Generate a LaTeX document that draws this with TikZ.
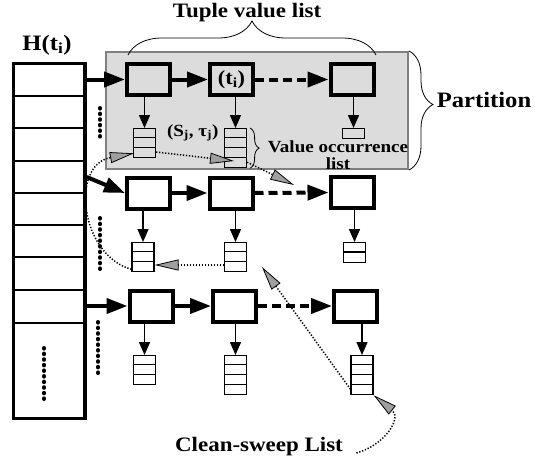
\documentclass[tikz,border=0pt]{standalone}
\usepackage{fontspec}
\setmainfont[FakeStretch=1.12]{Liberation Serif}
\usetikzlibrary{arrows.meta,decorations.pathreplacing,calc}
\definecolor{partgray}{HTML}{DCDCDC}
\newcommand\vlist[5]{%
  \node[lst,minimum height={#4*#5pt},anchor=north] (#1) at (#2,#3) {};
  \ifnum#4>1
    \pgfmathtruncatemacro\nmcells{#4-1}%
    \foreach \k in {1,...,\nmcells}{%
      \pgfmathsetmacro\yy{#3+\k*#5}%
      \draw[line width=1.2pt] (#1.west |- 0,\yy) -- (#1.east |- 0,\yy);
    }%
  \fi
}
\begin{document}
\begin{tikzpicture}[x=1pt,y=-1pt,
  vbox/.style={draw,line width=4pt,minimum width=43pt,minimum height=31pt,inner sep=0pt,font=\fontsize{20}{22}\selectfont\bfseries},
  lst/.style={draw,line width=1.2pt,minimum width=22pt,inner sep=0pt},
  big/.style={line width=4pt,-{Triangle[length=21pt,width=15pt]}},
  bigdash/.style={big,dash pattern=on 9pt off 5pt},
  down/.style={line width=1.5pt,-{Triangle[length=13pt,width=11pt]}},
  cs/.style={line width=1.5pt,dash pattern=on 1.3pt off 1.7pt,-{Triangle[length=24pt,width=11pt,fill=gray!75,line width=0.8pt]}},
  dots/.style={line width=4pt,dash pattern=on 0.6pt off 5pt,line cap=round},
  lbl/.style={font=\fontsize{20.5}{24}\selectfont\bfseries},
  slbl/.style={font=\fontsize{17}{16.5}\selectfont\bfseries},
  brace/.style={decorate,line width=0.8pt}
]
\useasboundingbox (0,0) rectangle (535,461);

% partition background
\node[fill=partgray,draw=gray,line width=2pt,minimum width=302pt,minimum height=117pt,inner sep=0pt] (part) at (257,110.5) {};

% hash table
\node[draw,line width=3.3pt,minimum width=71.7pt,minimum height=355pt,inner sep=0pt] (hash) at (49.2,241) {};
\foreach \y in {96,128,161,193,225,257,290,323}
  \draw[line width=1.2pt] (hash.west |- 0,\y) -- (hash.east |- 0,\y);
\draw[dots] (44,348) -- (44,402);

% boxes
\node[vbox] (b11) at (148.5,79.5) {};
\node[vbox] (b12) at (231.5,79.5) {(t\textsubscript{i})};
\node[vbox] (b13) at (352,79.5) {};
\node[vbox,fill=white] (b21) at (148.5,193) {};
\node[vbox,fill=white] (b22) at (231,193) {};
\node[vbox,fill=white] (b23) at (352,192.5) {};
\node[vbox,fill=white] (b31) at (151,306) {};
\node[vbox,fill=white] (b32) at (234.5,306) {};
\node[vbox,fill=white] (b33) at (355.5,306) {};

% lists
\vlist{l11}{144.5}{128}{3}{9.7}
\vlist{l12}{235.5}{128}{4}{9.75}
\vlist{l13}{353.5}{128}{1}{10}
\vlist{l21}{143}{242}{3}{9.7}
\vlist{l22}{235.5}{242}{3}{9.7}
\vlist{l23}{354.5}{242}{2}{10}
\vlist{l31}{144.5}{355}{3}{9.7}
\vlist{l32}{235.5}{355}{4}{9.75}
\vlist{l33}{362}{355}{4}{9.75}

% hash -> rows
\draw[big] (hash.east |- b11) -- (b11.west);
\draw[big] (hash.east |- 0,177) -- (b21.west);
\draw[big] (hash.east |- b31) -- (b31.west);

% row connections
\draw[big] (b11.east) -- (b12.west);
\draw[bigdash] (b12.east) -- (b13.west);
\draw[big] (b21.east) -- (b22.west);
\draw[bigdash] (b22.east) -- (b23.west);
\draw[big] (b31.east) -- (b32.west);
\draw[bigdash] (b32.east) -- (b33.west);

% down arrows
\foreach \b/\l in {b11/l11,b12/l12,b13/l13,b21/l21,b22/l22,b23/l23,b31/l31,b32/l32,b33/l33}
  \draw[down] (\b.south -| \l.north) -- (\l.north);

% thick dotted columns
\draw[dots] (100,108) -- (100,140);
\draw[dots] (100,218) -- (100,273);
\draw[dots] (98,322) -- (98,377);

% labels
\node[lbl] (title) at (247,13) {Tuple value list};
\node[font=\fontsize{22}{24}\selectfont\bfseries] (htitle) at (47,45) {H(t\textsubscript{i})};
\node[slbl,anchor=east] (sj) at (222,133) {(S\textsubscript{j}, τ\textsubscript{j})};
\node[slbl,align=center] (vol) at (338,155) {Value occurrence\\list};
\node[font=\fontsize{22}{24}\selectfont\bfseries] (partl) at (484,100) {Partition};
\node[lbl] (cs) at (259,447) {Clean-sweep List};

% braces
\draw[brace,decoration={brace,amplitude=34pt,aspect=0.5}] (128,55) -- (376,55);
\draw[brace,decoration={brace,amplitude=24pt,aspect=0.45}] (part.north east) -- (part.south east);
\draw[brace,decoration={brace,amplitude=9pt}] ($(l12.north east)+(3,0)$) -- ($(l12.south east)+(3,0)$);

% clean-sweep list
\coordinate (a2end) at (262,267);
\coordinate (a5end) at (234,161);
\coordinate (a6end) at (294,185);
\draw[cs] ($(cs.east)+(10,6)$) .. controls (385,445) and (402,418) .. (l33.south east);
\draw[cs] ($(l33.south west)+(0,-6)$) -- (a2end);
\draw[cs] (l22.west |- 0,265) -- (l21.east |- 0,265);
\draw[cs] ($(l21.south west)+(0,-3)$) .. controls (80,255) and (70,165) .. ($(l11.south west)+(1,-5)$);
\draw[cs] (l11.east |- 0,152) -- (a5end);
\draw[cs] ($(l12.south east)+(0,-6)$) -- (a6end);
\end{tikzpicture}
\end{document}
